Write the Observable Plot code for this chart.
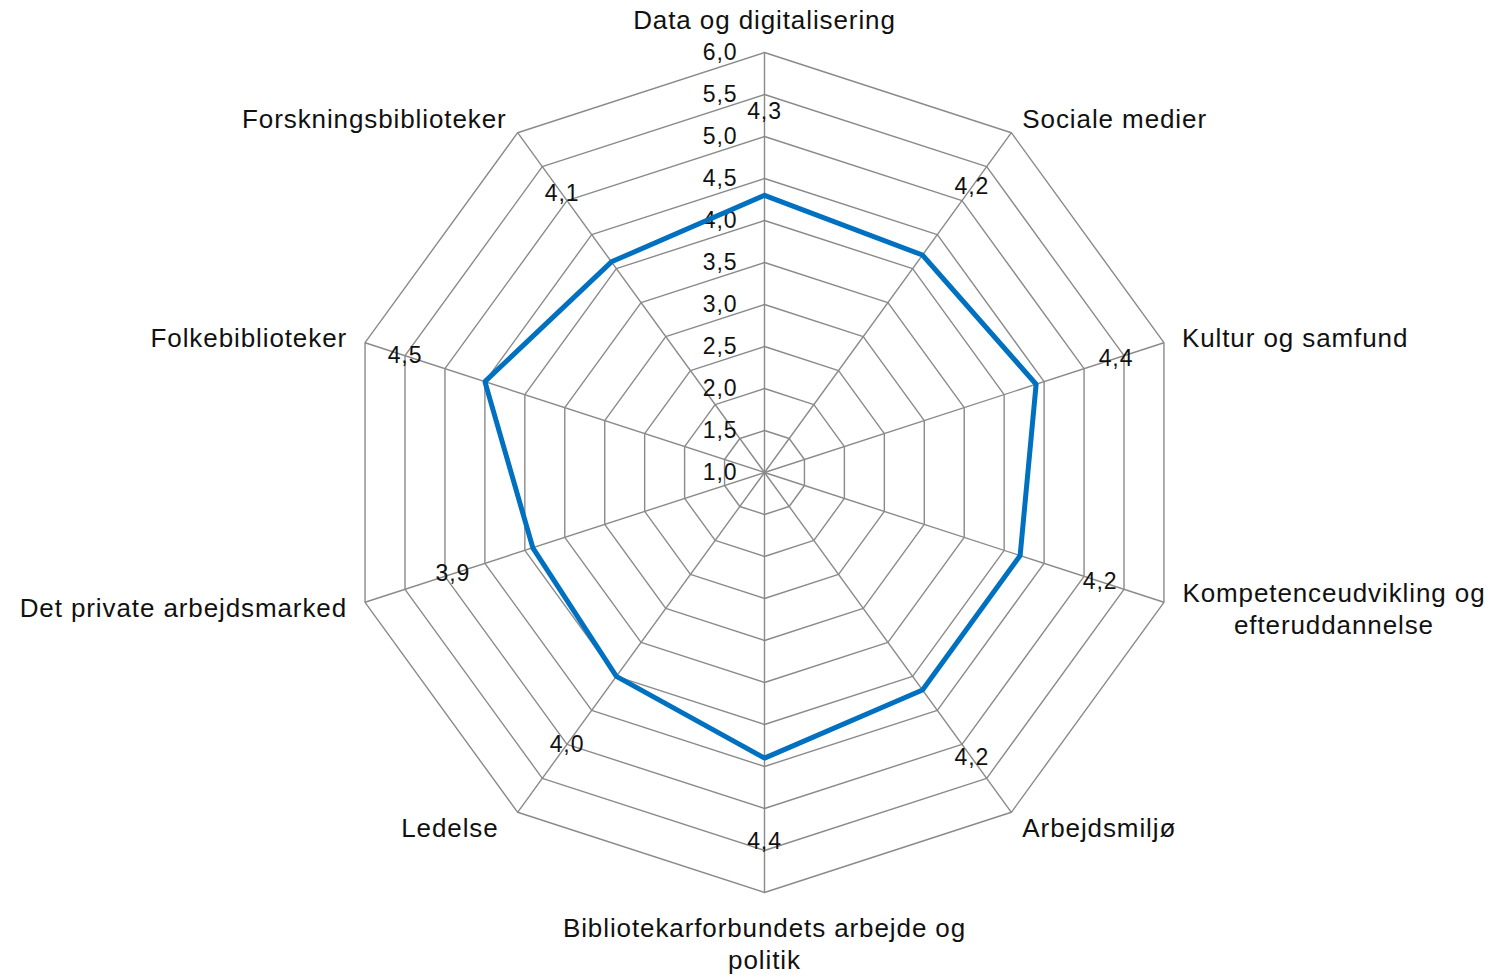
<!DOCTYPE html>
<html>
<head>
<meta charset="utf-8">
<script src="https://cdn.jsdelivr.net/npm/d3@7"></script>
<script src="https://cdn.jsdelivr.net/npm/@observablehq/plot@0.6"></script>
<style>
  html, body { margin: 0; padding: 0; background: #ffffff; }
  #chart svg { display: block; }
</style>
</head>
<body>
<div id="chart"></div>
<script>
// ---- Data ----
const categories = [
  "Data og digitalisering",
  "Sociale medier",
  "Kultur og samfund",
  "Kompetenceudvikling og\nefteruddannelse",
  "Arbejdsmiljø",
  "Bibliotekarforbundets arbejde og\npolitik",
  "Ledelse",
  "Det private arbejdsmarked",
  "Folkebiblioteker",
  "Forskningsbiblioteker"
];
const values = [4.3, 4.2, 4.4, 4.2, 4.2, 4.4, 4.0, 3.9, 4.5, 4.1];
const valueLabels = ["4,3", "4,2", "4,4", "4,2", "4,2", "4,4", "4,0", "3,9", "4,5", "4,1"];
const levels = [1.0, 1.5, 2.0, 2.5, 3.0, 3.5, 4.0, 4.5, 5.0, 5.5, 6.0];
const tickLabels = ["1,0", "1,5", "2,0", "2,5", "3,0", "3,5", "4,0", "4,5", "5,0", "5,5", "6,0"];

// ---- Layout ----
const W = 1494, H = 978;
const cx = 764, cy = 472, unit = 84; // px per scale unit
const rMin = 1.0, rMax = 6.0;
const n = categories.length;
const ang = i => i * 2 * Math.PI / n;
const px = (i, v) => (v - rMin) * Math.sin(ang(i));
const py = (i, v) => (v - rMin) * Math.cos(ang(i));

const gridColor = "#8a8a8a";
const lineColor = "#0070C0";
const textColor = "#111111";

// ring polygons
const rings = [];
levels.filter(l => l > rMin).forEach(l => {
  for (let i = 0; i <= n; i++) rings.push({level: l, x: px(i % n, l), y: py(i % n, l)});
});
// spokes
const spokes = categories.map((c, i) => ({x2: px(i, rMax), y2: py(i, rMax)}));
// series
const series = [];
for (let i = 0; i <= n; i++) series.push({x: px(i % n, values[i % n]), y: py(i % n, values[i % n])});
// value labels (placed one unit outside the point, as in the source)
const valuePts = values.map((v, i) => ({x: px(i, v + 1), y: py(i, v + 1), t: valueLabels[i]}));

// category label placement (offsets from spoke end, px)
const labelStyle = [
  {anchor: "middle", dx: 0,   dy: -34},
  {anchor: "start",  dx: 11,  dy: -15},
  {anchor: "start",  dx: 18,  dy: -6},
  {anchor: "middle", dx: 170, dy: 5},
  {anchor: "start",  dx: 11,  dy: 14},
  {anchor: "middle", dx: 0,   dy: 50},
  {anchor: "end",    dx: -19, dy: 14},
  {anchor: "end",    dx: -18, dy: 4},
  {anchor: "end",    dx: -18, dy: -6},
  {anchor: "end",    dx: -11, dy: -15}
];

const catMarks = categories.map((c, i) => Plot.text([c], {
  x: () => px(i, rMax),
  y: () => py(i, rMax),
  text: d => d,
  textAnchor: labelStyle[i].anchor,
  lineAnchor: "middle",
  dx: labelStyle[i].dx,
  dy: labelStyle[i].dy,
  fontSize: 26,
  lineHeight: 1.23,
  fill: textColor
}));

const chart = Plot.plot({
  width: W,
  height: H,
  margin: 0,
  x: {domain: [-cx / unit, (W - cx) / unit], range: [0, W], axis: null},
  y: {domain: [-(H - cy) / unit, cy / unit], range: [H, 0], axis: null},
  style: {fontFamily: "'Liberation Sans', Arial, Helvetica, sans-serif", background: "#ffffff", letterSpacing: "0.9px"},
  marks: [
    Plot.line(rings, {x: "x", y: "y", z: "level", stroke: gridColor, strokeWidth: 1.4, curve: "linear"}),
    Plot.link(spokes, {x1: () => 0, y1: () => 0, x2: "x2", y2: "y2", stroke: gridColor, strokeWidth: 1.4}),
    Plot.text(levels, {x: () => 0, y: d => d - rMin, text: (d, i) => tickLabels[i], textAnchor: "end", dx: -27, fontSize: 23, fill: textColor}),
    Plot.line(series, {x: "x", y: "y", stroke: lineColor, strokeWidth: 5, strokeLinejoin: "miter", curve: "linear"}),
    Plot.text(valuePts, {x: "x", y: "y", text: "t", textAnchor: "middle", fontSize: 23, fill: textColor}),
    ...catMarks
  ]
});
document.getElementById("chart").appendChild(chart);
</script>
</body>
</html>
